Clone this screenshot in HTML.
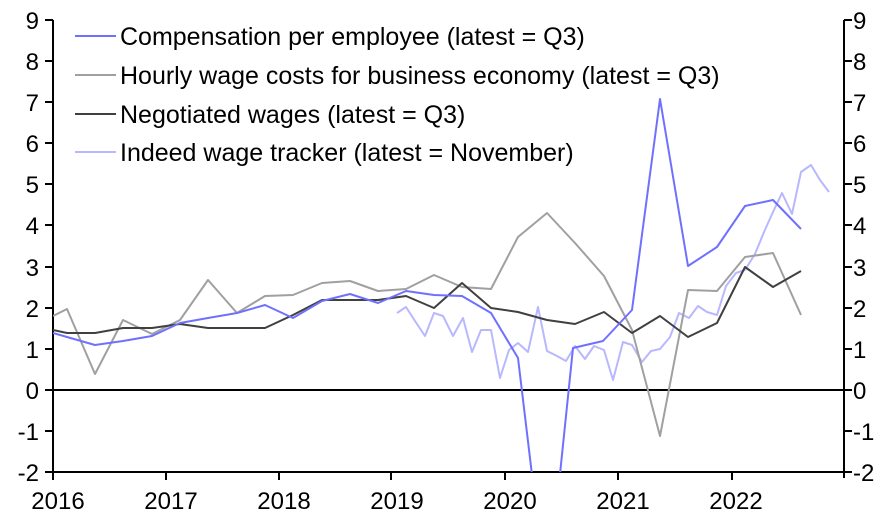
<!DOCTYPE html>
<html><head><meta charset="utf-8"><style>html,body{margin:0;background:#fff;overflow:hidden;width:891px;height:518px}svg{display:block}text{font-family:"Liberation Sans",sans-serif;font-size:24px;fill:#000}.lg{font-size:25px}</style></head><body>
<svg width="891" height="518" viewBox="0 0 891 518">
<defs><clipPath id="c"><rect x="53" y="15" width="791" height="457"/></clipPath></defs>
<g stroke="#000" stroke-width="2" fill="none">
<line x1="53" y1="20" x2="53" y2="472"/><line x1="844" y1="20" x2="844" y2="478"/>
<line x1="53" y1="472" x2="844" y2="472"/><line x1="53" y1="390" x2="844" y2="390"/>
<path d="M45 20H53M45 61H53M45 102H53M45 143H53M45 184H53M45 225H53M45 267H53M45 308H53M45 349H53M45 390H53M45 431H53M45 472H53"/>
<path d="M844 20H852M844 61H852M844 102H852M844 143H852M844 184H852M844 225H852M844 267H852M844 308H852M844 349H852M844 390H852M844 431H852M844 472H852"/>
<path d="M53 472V480M166 472V480M279 472V480M391 472V480M505 472V480M618 472V480M732 472V480"/>
</g>
<g text-anchor="end">
<text x="39" y="29">9</text><text x="39" y="70">8</text><text x="39" y="111">7</text><text x="39" y="152">6</text><text x="39" y="193">5</text><text x="39" y="234">4</text><text x="39" y="276">3</text><text x="39" y="317">2</text><text x="39" y="358">1</text><text x="39" y="399">0</text><text x="39" y="440">-1</text><text x="39" y="481">-2</text>
</g>
<g>
<text x="853" y="29">9</text><text x="853" y="70">8</text><text x="853" y="111">7</text><text x="853" y="152">6</text><text x="853" y="193">5</text><text x="853" y="234">4</text><text x="853" y="276">3</text><text x="853" y="317">2</text><text x="853" y="358">1</text><text x="853" y="399">0</text><text x="853" y="440">-1</text><text x="853" y="481">-2</text>
</g>
<g text-anchor="middle">
<text x="58" y="509">2016</text><text x="171" y="509">2017</text><text x="284" y="509">2018</text><text x="397" y="509">2019</text><text x="510" y="509">2020</text><text x="623" y="509">2021</text><text x="736" y="509">2022</text>
</g>
<g fill="none" stroke-width="2" clip-path="url(#c)" stroke-linejoin="round">
<polyline stroke="#b8b8ff" points="397,313 406,307 415,321 425,336 434,313 443,316 453,336 463,318 472,352 481,330 491,330 500,378 509,350 518,343 528,352 538,307 547,351 557,356 566,361 575,346 585,359 594,346 604,350 613,380 623,342 632,345 642,362 651,351 660,349 670,337 679,313 689,318 698,306 707,312 717,315 726,286 736,273 745,270 755,254 764,232 773,212 782,193 792,214 801,172 811,165 820,180 829,192"/>
<polyline stroke="#a0a0a0" points="53,316 67,309 95,374 123,320 152,334 180,320 208,280 237,313 265,296 293,295 322,283 350,281 378,291 406,289 434,275 462,287 491,289 518,237 547,213 575,243 604,276 632,330 660,436 688,290 717,291 745,257 773,253 801,315"/>
<polyline stroke="#404040" points="53,330 67,333 95,333 123,328 152,328 180,324 208,328 237,328 265,328 293,315 322,300 350,300 378,300 406,296 434,308 462,283 491,308 518,312 547,320 575,324 604,312 632,333 660,316 688,337 717,323 745,267 773,287 801,271"/>
<polyline stroke="#7070ff" points="53,333 67,337 95,345 123,341 152,336 180,323 208,318 237,313 265,305 293,318 322,301 350,294 378,303 406,291 434,295 462,296 491,313 518,358 547,600 573,348 603,341 632,310 660,99 688,266 717,247 745,206 773,200 801,229"/>
</g>
<g stroke-width="2">
<line x1="75" y1="36" x2="116" y2="36" stroke="#7070ff"/>
<line x1="75" y1="75" x2="116" y2="75" stroke="#a0a0a0"/>
<line x1="75" y1="114" x2="116" y2="114" stroke="#404040"/>
<line x1="75" y1="152" x2="116" y2="152" stroke="#b8b8ff"/>
</g>
<text class="lg" x="120" y="45">Compensation per employee (latest = Q3)</text>
<text class="lg" x="120" y="84">Hourly wage costs for business economy (latest = Q3)</text>
<text class="lg" x="120" y="123">Negotiated wages (latest = Q3)</text>
<text class="lg" x="120" y="161">Indeed wage tracker (latest = November)</text>
</svg>
</body></html>
